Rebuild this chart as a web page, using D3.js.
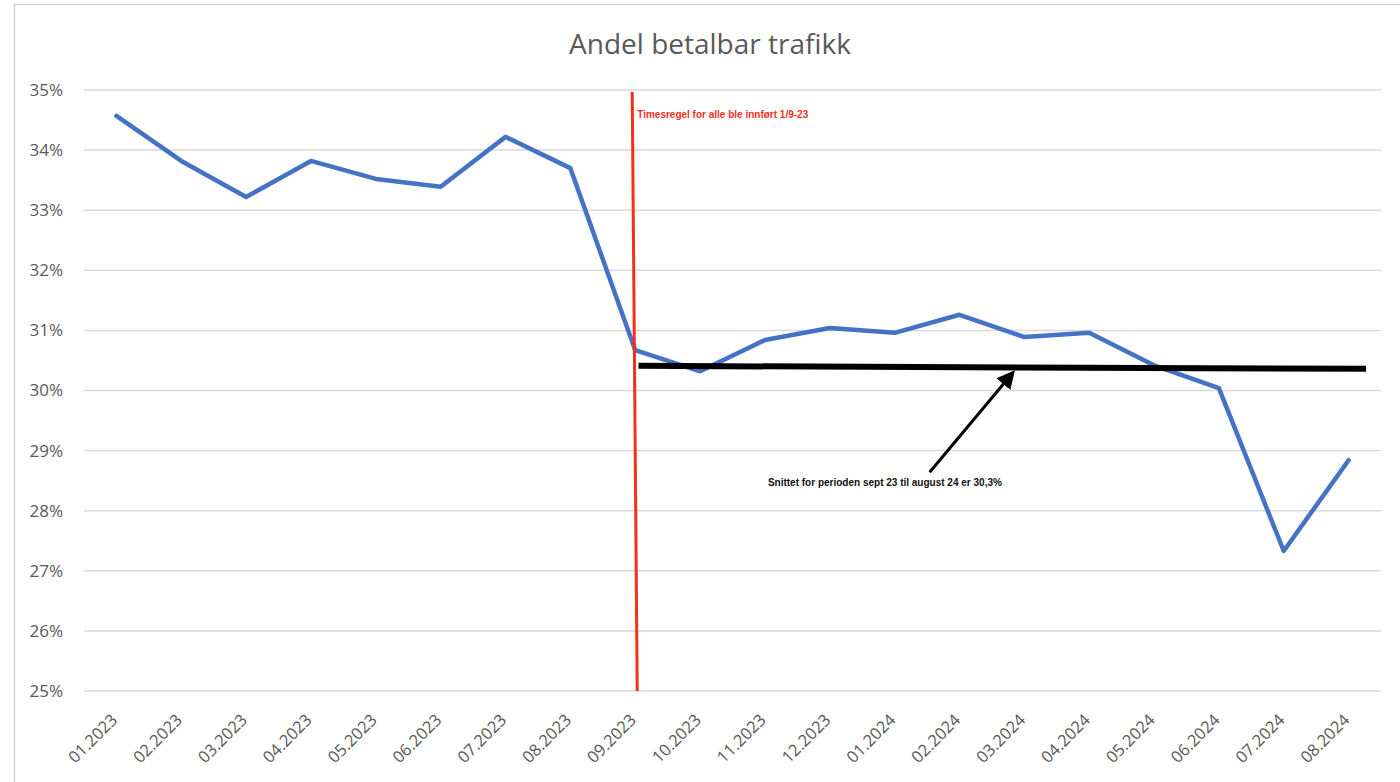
<!DOCTYPE html>
<html>
<head>
<meta charset="utf-8">
<script src="https://cdn.jsdelivr.net/npm/d3@7"></script>
<style>
  body { margin: 0; background: #fff; }
  svg { display: block; font-family: "Open Sans", "Liberation Sans", sans-serif; }
</style>
</head>
<body>
<div id="chart"></div>
<script>
const months = ["01.2023", "02.2023", "03.2023", "04.2023", "05.2023", "06.2023", "07.2023", "08.2023",
  "09.2023", "10.2023", "11.2023", "12.2023", "01.2024", "02.2024", "03.2024", "04.2024",
  "05.2024", "06.2024", "07.2024", "08.2024"];
const share = [34.57, 33.82, 33.22, 33.82, 33.52, 33.39, 34.22, 33.70,
  30.67, 30.32, 30.84, 31.04, 30.96, 31.26, 30.89, 30.96,
  30.42, 30.04, 27.33, 28.84];
const yTicks = [25, 26, 27, 28, 29, 30, 31, 32, 33, 34, 35];
const ruleMonth = "09.2023";
const ruleText = "Timesregel for alle ble innført 1/9-23";
const avgLine = [{ i: 8.05, v: 30.41 }, { i: 19.27, v: 30.36 }];
const arrow = { from: { i: 12.54, v: 28.64 }, to: { i: 13.82, v: 30.29 } };
const avgText = { i: 11.85, v: 28.46, text: "Snittet for perioden sept 23 til august 24 er 30,3%" };

const W = 1400, H = 782;
const margin = { top: 90, right: 19, bottom: 91, left: 84 };

const svg = d3.select("#chart").append("svg")
  .attr("width", W)
  .attr("height", H);

// frame of the chart area
svg.append("path")
  .attr("d", `M14.5,${H} V4.5 H${W}`)
  .attr("fill", "none")
  .attr("stroke", "#d4d4d4")
  .attr("stroke-width", 1.5);

const x = d3.scaleBand()
  .domain(months)
  .range([margin.left, W - margin.right]);

const y = d3.scaleLinear()
  .domain([25, 35])
  .range([H - margin.bottom, margin.top]);

// index -> pixel, for the hand placed notes
const xi = d3.scaleLinear()
  .domain([0, months.length - 1])
  .range([x(months[0]) + x.bandwidth() / 2, x(months[months.length - 1]) + x.bandwidth() / 2]);

svg.append("text")
  .attr("x", 710)
  .attr("y", 54)
  .attr("text-anchor", "middle")
  .style("font-size", "28px")
  .style("fill", "#595959")
  .text("Andel betalbar trafikk");

// grid
svg.append("g")
  .selectAll("line")
  .data(yTicks)
  .join("line")
    .attr("x1", margin.left)
    .attr("x2", W - margin.right)
    .attr("y1", d => y(d))
    .attr("y2", d => y(d))
    .attr("stroke", "#d9d9d9")
    .attr("stroke-width", 1.5);

const yAxis = svg.append("g")
  .attr("transform", `translate(${margin.left - 18},0)`)
  .call(d3.axisLeft(y).tickValues(yTicks).tickFormat(d => d + "%").tickSize(0));
yAxis.select(".domain").remove();
yAxis.selectAll("text")
  .style("font-size", "17px")
  .style("font-family", "'Open Sans', sans-serif")
  .style("fill", "#595959");

const xAxis = svg.append("g")
  .attr("transform", `translate(0,${H - margin.bottom})`)
  .call(d3.axisBottom(x).tickSize(0));
xAxis.select(".domain").remove();
xAxis.selectAll("text")
  .style("font-size", "16.5px")
  .style("font-family", "'Open Sans', sans-serif")
  .style("fill", "#595959")
  .attr("text-anchor", "end")
  .attr("x", 0)
  .attr("y", 0)
  .attr("dy", 0)
  .attr("transform", "translate(2,30) rotate(-45)");

// the series
const line = d3.line()
  .x((d, i) => x(months[i]) + x.bandwidth() / 2)
  .y(d => y(d));

svg.append("path")
  .datum(share)
  .attr("d", line)
  .attr("fill", "none")
  .attr("stroke", "#4472c4")
  .attr("stroke-width", 4.5)
  .attr("stroke-linejoin", "round")
  .attr("stroke-linecap", "round");

// red rule
const rx = x(ruleMonth) + x.bandwidth() / 2;
svg.append("line")
  .attr("x1", rx - 3)
  .attr("x2", rx + 2)
  .attr("y1", y(35) + 2)
  .attr("y2", y(25))
  .attr("stroke", "#f5301a")
  .attr("stroke-width", 3);

svg.append("text")
  .attr("x", rx + 2)
  .attr("y", 118)
  .style("font-family", "'Liberation Sans', Arial, sans-serif")
  .style("font-size", "10px")
  .style("font-weight", "bold")
  .style("fill", "#f5301a")
  .text(ruleText);

// average line
svg.append("line")
  .attr("x1", xi(avgLine[0].i))
  .attr("x2", xi(avgLine[1].i))
  .attr("y1", y(avgLine[0].v))
  .attr("y2", y(avgLine[1].v))
  .attr("stroke", "#000")
  .attr("stroke-width", 6);

svg.append("defs").append("marker")
  .attr("id", "head")
  .attr("viewBox", "0 0 10 10")
  .attr("refX", 8)
  .attr("refY", 5)
  .attr("markerWidth", 6)
  .attr("markerHeight", 6)
  .attr("orient", "auto")
  .append("path")
    .attr("d", "M0,0 L10,5 L0,10 z")
    .attr("fill", "#000");

svg.append("line")
  .attr("x1", xi(arrow.from.i))
  .attr("y1", y(arrow.from.v))
  .attr("x2", xi(arrow.to.i))
  .attr("y2", y(arrow.to.v))
  .attr("stroke", "#000")
  .attr("stroke-width", 3)
  .attr("marker-end", "url(#head)");

svg.append("text")
  .attr("x", xi(avgText.i))
  .attr("y", y(avgText.v) + 3)
  .attr("text-anchor", "middle")
  .style("font-family", "'Liberation Sans', Arial, sans-serif")
  .style("font-size", "10px")
  .style("font-weight", "bold")
  .style("fill", "#111")
  .text(avgText.text);
</script>
</body>
</html>
